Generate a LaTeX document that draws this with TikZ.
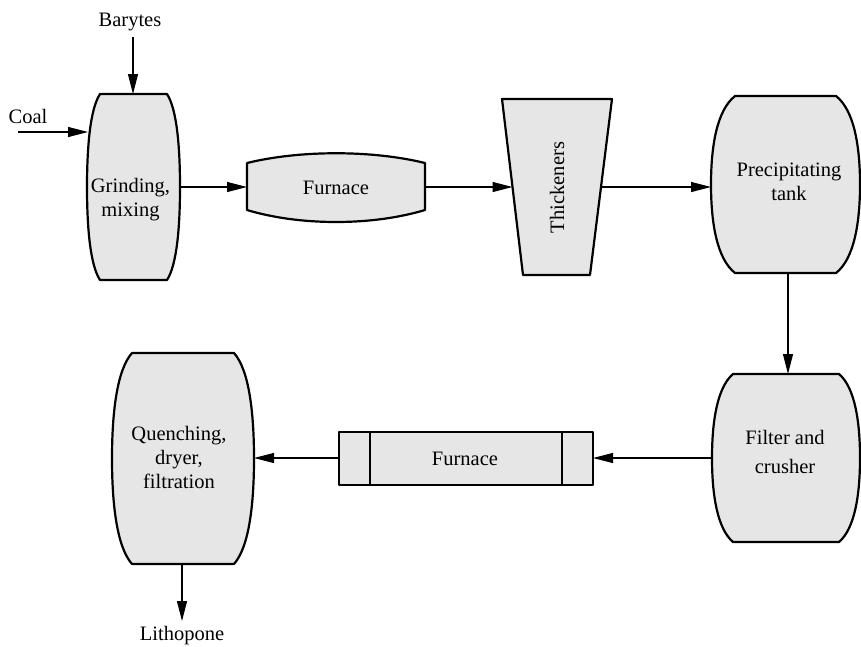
\documentclass[tikz,border=0pt]{standalone}
\usepackage{fontspec}
\setmainfont{Liberation Serif}
\usetikzlibrary{arrows.meta}
\newcommand{\barrelpath}[5]{% x1 x2 top bot inset
 \pgfmathsetmacro\brh{#4-#3}\pgfmathsetmacro\brm{(#3+#4)/2}
 \filldraw[unit] ({#1+#5},#3) -- ({#2-#5},#3) .. controls ({#2-0.25*#5},{#3+0.08*\brh}) and (#2,{#3+0.28*\brh}) .. (#2,\brm) .. controls (#2,{#4-0.28*\brh}) and ({#2-0.25*#5},{#4-0.08*\brh}) .. ({#2-#5},#4) -- ({#1+#5},#4) .. controls ({#1+0.25*#5},{#4-0.08*\brh}) and (#1,{#4-0.28*\brh}) .. (#1,\brm) .. controls (#1,{#3+0.28*\brh}) and ({#1+0.25*#5},{#3+0.08*\brh}) .. ({#1+#5},#3) -- cycle;}
\begin{document}
\begin{tikzpicture}[x=1pt,y=-1pt,
  unit/.style={draw=black,fill=boxgray,line width=2.2pt,line join=round},
  flow/.style={line width=1.1pt,-{Triangle[length=20pt,width=10pt]}},
  lbl/.style={font=\fontsize{20.5}{24}\selectfont,align=center,inner sep=0pt}]
\definecolor{boxgray}{HTML}{E6E6E6}
\useasboundingbox (0,0) rectangle (861,646);
% units
\barrelpath{87}{180}{94}{280}{13}
\filldraw[unit] (247,163) -- (247,210) .. controls (300,226) and (372,226) .. (425,210) -- (425,163) .. controls (372,150) and (300,150) .. (247,163) -- cycle;
\filldraw[unit] (502,99) -- (612,99) -- (590,275) -- (523,275) -- cycle;
\barrelpath{711}{860}{96}{273}{24}
\barrelpath{712}{860}{374}{542}{21}
\filldraw[unit] (339,432) rectangle (593,485);
\draw[line width=2.2pt] (370,432) -- (370,485) (562,432) -- (562,485);
\barrelpath{112}{254}{353}{564}{20}
% labels
\node[lbl] (grind) at (130.5,200) {Grinding,\\mixing};
\node[lbl] (furn1) at (336,188) {Furnace};
\node[lbl,rotate=90] (thick) at (557,187.5) {Thickeners};
\node[lbl] (precip) at (789,182) {Precipitating\\tank};
\node[lbl] (filter) at (785,452) {Filter and\\[4.5pt]crusher};
\node[lbl] (furn2) at (465,459) {Furnace};
\node[lbl] (quench) at (179,457) {Quenching,\\dryer,\\filtration};
\node[lbl] (barytes) at (130,22) {Barytes};
\node[lbl] (coal) at (28,116) {Coal};
\node[lbl] (litho) at (182,636) {Lithopone};
% connector points
\coordinate (bary-s) at (133,37);
\coordinate (g-top) at (133,94);
\coordinate (coal-s) at (18,132);
\coordinate (g-left) at (88,132);
\coordinate (g-right) at (180,187);
\coordinate (f1-left) at (247,187);
\coordinate (f1-right) at (425,187);
\coordinate (t-left) at (512.5,187);
\coordinate (t-right) at (601,187);
\coordinate (p-left) at (711,187);
\coordinate (p-bot) at (788,273);
\coordinate (fc-top) at (788,374);
\coordinate (fc-left) at (712,458);
\coordinate (f2-right) at (593,458);
\coordinate (f2-left) at (339,458);
\coordinate (q-right) at (254,458);
\coordinate (q-bot) at (182,564);
\coordinate (litho-n) at (182,621);
% flows
\draw[flow] (bary-s) -- (g-top);
\draw[flow] (coal-s) -- (g-left);
\draw[flow] (g-right) -- (f1-left);
\draw[flow] (f1-right) -- (t-left);
\draw[flow] (t-right) -- (p-left);
\draw[flow] (p-bot) -- (fc-top);
\draw[flow] (fc-left) -- (f2-right);
\draw[flow] (f2-left) -- (q-right);
\draw[flow] (q-bot) -- (litho-n);
\end{tikzpicture}
\end{document}
